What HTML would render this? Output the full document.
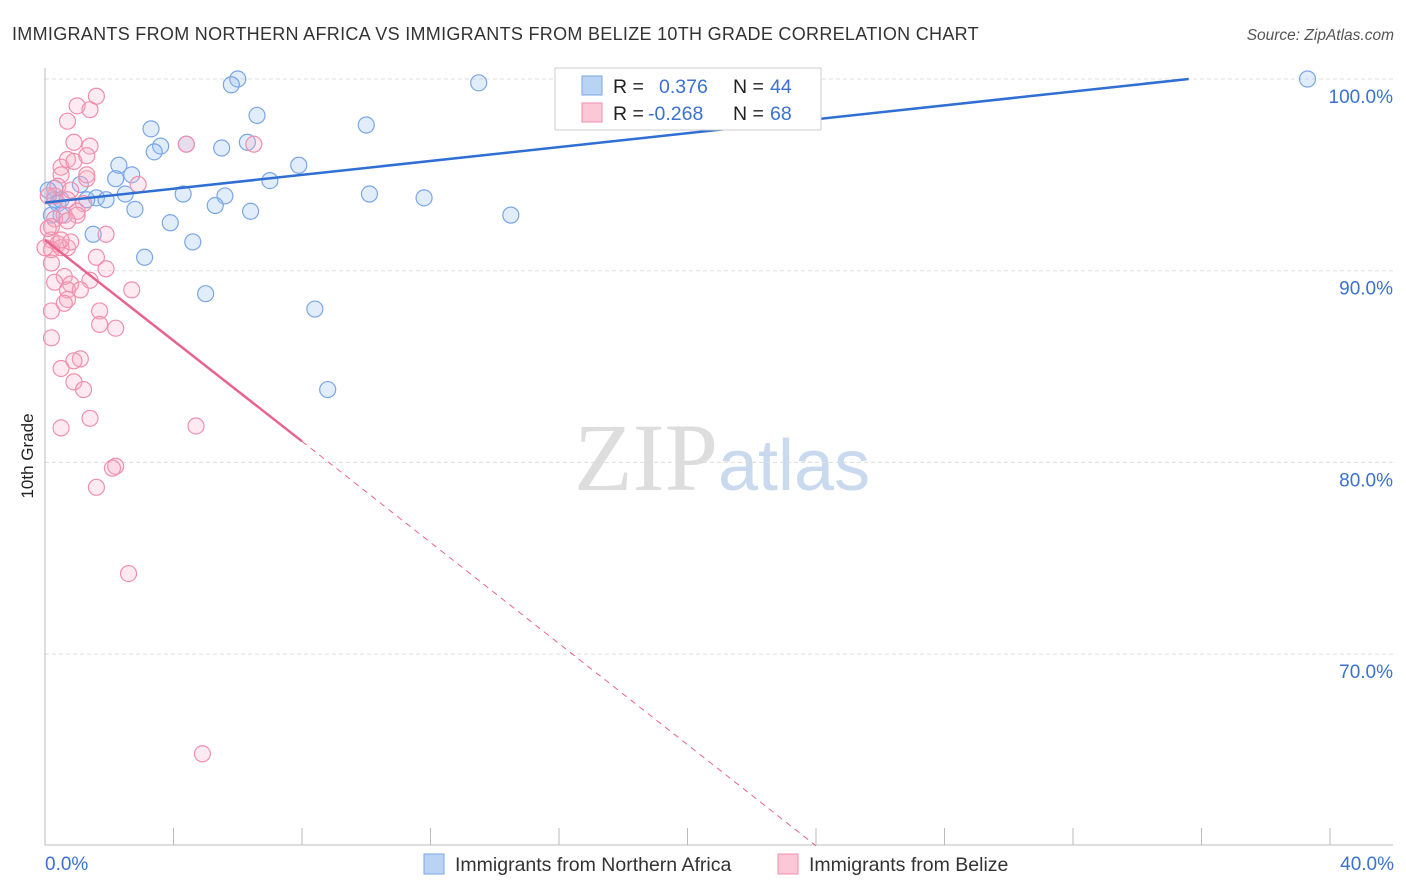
<!DOCTYPE html>
<html><head><meta charset="utf-8"><style>
body{margin:0;background:#fff;font-family:"Liberation Sans",sans-serif;}
</style></head><body>
<svg id="chart" width="1406" height="892" style="position:absolute;left:0;top:0">
<text x="12" y="40" font-size="18" fill="#333" letter-spacing="0.3">IMMIGRANTS FROM NORTHERN AFRICA VS IMMIGRANTS FROM BELIZE 10TH GRADE CORRELATION CHART</text>
<text x="1394" y="40" font-size="15.5" fill="#555" font-style="italic" text-anchor="end">Source: ZipAtlas.com</text>
<text x="33" y="456" font-size="17" fill="#222" transform="rotate(-90 33 456)" text-anchor="middle">10th Grade</text>
<text x="718" y="490" font-size="96" fill="#ddd" text-anchor="end" font-family="Liberation Serif,serif">ZIP</text>
<text x="718" y="490" font-size="72" fill="#c9d9ee">atlas</text>
<g id="grid"></g><g id="ticks"></g><g id="pts"></g><g id="lines"></g>
<g>
<rect x="555" y="68" width="266" height="62" fill="#fff" stroke="#ccc"/>
<rect x="582" y="76" width="20" height="19" fill="#b9d3f5" stroke="#7aa6e6"/>
<rect x="582" y="103" width="20" height="19" fill="#fcc7d6" stroke="#f08fad"/>
<text x="613" y="93" font-size="19.5" fill="#222">R = </text><text x="659" y="93" font-size="19.5" fill="#3b72d0">0.376</text>
<text x="733" y="93" font-size="19.5" fill="#222">N = </text><text x="770" y="93" font-size="19.5" fill="#3b72d0">44</text>
<text x="613" y="120" font-size="19.5" fill="#222">R = </text><text x="648" y="120" font-size="19.5" fill="#3b72d0">-0.268</text>
<text x="733" y="120" font-size="19.5" fill="#222">N = </text><text x="770" y="120" font-size="19.5" fill="#3b72d0">68</text>
</g>
<g>
<rect x="424" y="854" width="20" height="20" fill="#b9d3f5" stroke="#7aa6e6"/>
<text x="455" y="871" font-size="19.5" fill="#333">Immigrants from Northern Africa</text>
<rect x="778" y="854" width="20" height="20" fill="#fcc7d6" stroke="#f08fad"/>
<text x="809" y="871" font-size="19.5" fill="#333">Immigrants from Belize</text>
</g>
<text x="45" y="870" font-size="19" fill="#3b72d0">0.0%</text>
<text x="1394" y="870" font-size="19" fill="#3b72d0" text-anchor="end">40.0%</text>
</svg>
<script>
const yTicks=[100,90,80,70];
const blueX=[6.0,5.8,13.5,39.3,6.6,3.3,10.0,4.4,3.6,3.4,5.5,6.3,2.3,7.9,2.2,2.7,7.0,1.1,0.3,4.3,2.5,5.6,10.1,11.8,1.6,1.9,1.3,5.3,0.3,0.4,2.8,6.4,14.5,0.5,3.9,1.5,4.6,3.1,5.0,8.4,8.8,0.1,0.5,0.2];
const blueY=[100,99.7,99.8,100,98.1,97.4,97.6,96.6,96.5,96.2,96.4,96.7,95.5,95.5,94.8,95.0,94.7,94.5,94.3,94.0,94.0,93.9,94.0,93.8,93.8,93.7,93.7,93.4,93.7,93.5,93.2,93.1,92.9,92.9,92.5,91.9,91.5,90.7,88.8,88.0,83.8,94.2,93.7,92.9];
const pinkX=[1.6,1.0,1.4,0.7,0.9,4.4,1.4,6.5,1.3,0.7,0.5,0.5,1.3,2.9,0.4,0.8,0.3,0.7,1.2,1.0,0.6,1.0,0.3,0.7,0.2,1.9,0.2,0.4,0.7,0.2,1.6,0.2,1.9,0.6,1.4,0.3,0.8,0.7,2.7,0.7,0.6,1.7,0.2,1.7,2.2,0.2,1.1,0.9,0.5,0.9,1.2,1.4,4.7,0.5,2.2,2.1,1.6,2.6,4.9,0.0,0.1,0.5,0.9,1.3,0.1,0.8,1.1,0.5];
const pinkY=[99.1,98.6,98.4,97.8,96.7,96.6,96.5,96.6,96.0,95.8,95.4,95.0,94.8,94.5,94.4,94.2,93.9,93.7,93.5,93.1,92.9,92.9,92.7,92.6,92.3,91.9,91.6,91.4,91.2,91.1,90.7,90.4,90.1,89.7,89.5,89.4,89.3,89.0,89.0,88.5,88.3,87.9,87.9,87.2,87.0,86.5,85.4,85.3,84.9,84.2,83.8,82.3,81.9,81.8,79.8,79.7,78.7,74.2,64.8,91.2,92.2,91.2,95.7,95.0,93.9,91.5,89.0,91.6];
const blueTrend=[93.55,100]; const blueTrendX=[0,35.6];
const pinkTrend=[91.6,81.1,60.0]; const pinkTrendX=[0,8,24.0];
const X=v=>45+v*32.125, Y=v=>79+(100-v)*19.17;
const NS="http://www.w3.org/2000/svg";
function mk(t,a,p){const e=document.createElementNS(NS,t);for(const k in a)e.setAttribute(k,a[k]);document.getElementById(p).appendChild(e);return e;}
yTicks.forEach(t=>{
 const l=mk('line',{x1:45,x2:1393,y1:Y(t),y2:Y(t),stroke:'#ddd','stroke-dasharray':'4,3'},'grid');
 
 
 const tx=mk('text',{x:1393,y:Y(t)+24,'font-size':19,fill:'#3b72d0','text-anchor':'end'},'grid');
 tx.textContent=t.toFixed(1)+'%';
 
 
});
mk('line',{x1:45,x2:45,y1:68,y2:845,stroke:'#bbb'},'ticks');
mk('line',{x1:45,x2:1393,y1:845,y2:845,stroke:'#bbb'},'ticks');
for(let i=0;i<=10;i++){const t=mk('line',{x1:X(i*4),x2:X(i*4),y1:828,y2:845,stroke:'#bbb'},'ticks');
 
 }
blueX.forEach((v,i)=>{const c=mk('circle',{cx:X(v),cy:Y(blueY[i]),r:8,fill:'rgba(150,190,240,0.28)',stroke:'#7aa6e6','stroke-width':1.2},'pts');
 
 });
pinkX.forEach((v,i)=>{const c=mk('circle',{cx:X(v),cy:Y(pinkY[i]),r:8,fill:'rgba(250,170,195,0.25)',stroke:'#f08fad','stroke-width':1.2},'pts');
 
 });
let b=mk('line',{x1:X(blueTrendX[0]),y1:Y(blueTrend[0]),x2:X(blueTrendX[1]),y2:Y(blueTrend[1]),stroke:'#2f6fd4','stroke-width':2.5},'lines');


let p=mk('line',{x1:X(pinkTrendX[0]),y1:Y(pinkTrend[0]),x2:X(pinkTrendX[1]),y2:Y(pinkTrend[1]),stroke:'#e8648f','stroke-width':2.5},'lines');


let pd=mk('line',{x1:X(pinkTrendX[1]),y1:Y(pinkTrend[1]),x2:X(pinkTrendX[2]),y2:Y(pinkTrend[2]),stroke:'#e8648f','stroke-width':1,'stroke-dasharray':'6,5'},'lines');


</script>
</body></html>
